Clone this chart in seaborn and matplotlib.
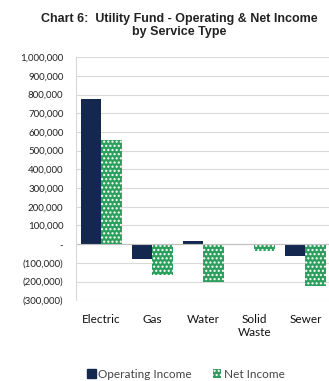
import matplotlib
matplotlib.use("Agg")
import matplotlib.pyplot as plt
import seaborn as sns
import pandas as pd
from matplotlib.patches import Patch
from matplotlib.ticker import FuncFormatter

categories = ["Electric", "Gas", "Water", "Solid\nWaste", "Sewer"]
operating_income = [775000, -80000, 15000, -3000, -65000]
net_income = [555000, -165000, -200000, -38000, -225000]
series_names = ["Operating Income", "Net Income"]

df = pd.DataFrame({
    "category": categories * 2,
    "series": [series_names[0]] * len(categories) + [series_names[1]] * len(categories),
    "value": operating_income + net_income,
})

sns.set_theme(style="white")
plt.rcParams["font.family"] = ["Lato", "DejaVu Sans"]
plt.rcParams["hatch.linewidth"] = 1.0

navy = "#14284F"
green = "#2E9E5E"
hatch = "...."

fig = plt.figure(figsize=(3.29, 3.81), dpi=100)
ax = fig.add_axes([0.231, 0.212, 0.775, 0.638])

sns.barplot(data=df, x="category", y="value", hue="series", order=categories,
            hue_order=series_names, palette=[navy, green], width=0.8,
            saturation=1, ax=ax, legend=False, errorbar=None)

n = len(categories)
for i, p in enumerate(ax.patches[:2 * n]):
    if i >= n:
        p.set_facecolor(green)
        p.set_edgecolor("white")
        p.set_hatch(hatch)
        p.set_linewidth(0)
    else:
        p.set_linewidth(0)

ax.set_ylim(-300000, 1000000)
ax.set_xlim(-0.5, n - 0.5)
ax.set_yticks(range(-300000, 1000001, 100000))

def fmt(v, pos):
    if v == 0:
        return "-"
    if v < 0:
        return "({:,.0f})".format(-v)
    return "{:,.0f}".format(v)

ax.yaxis.set_major_formatter(FuncFormatter(fmt))
ax.grid(axis="y", color="#D9D9D9", linewidth=0.8)
ax.set_axisbelow(True)
ax.axhline(0, color="#BFBFBF", linewidth=0.8, zorder=1)
for s in ["top", "right", "bottom"]:
    ax.spines[s].set_visible(False)
ax.spines["left"].set_color("#D9D9D9")
ax.spines["left"].set_linewidth(0.8)

ax.tick_params(axis="y", length=0, pad=9, labelsize=7, labelcolor="#222222")
ax.tick_params(axis="x", length=0, pad=10, labelsize=8.5, labelcolor="#111111")
ax.set_xlabel("")
ax.set_ylabel("")

fig.text(0.545, 0.965, "Chart 6:  Utility Fund - Operating & Net Income\nby Service Type",
         ha="center", va="top", fontsize=9, fontweight="bold",
         family=["Liberation Sans", "DejaVu Sans"], color="#222222", linespacing=1.1)

handles = [Patch(facecolor=navy, edgecolor=navy),
           Patch(facecolor=green, edgecolor="white", hatch=hatch, linewidth=0)]
fig.legend(handles, series_names, loc="center", bbox_to_anchor=(0.565, 0.018),
           ncol=2, frameon=False, fontsize=8.5, handlelength=0.7, handleheight=0.7,
           handletextpad=0.2, columnspacing=1.8, labelcolor="#444444")

fig.savefig("out.png", dpi=100)
